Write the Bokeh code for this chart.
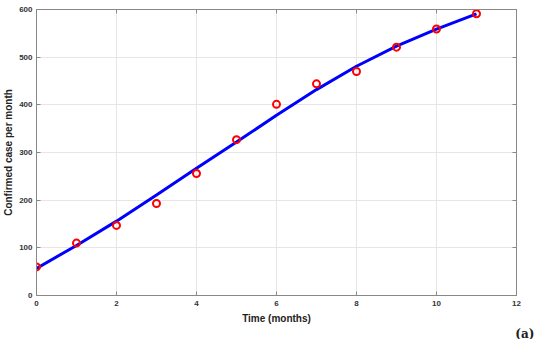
from bokeh.plotting import figure
from bokeh.models import LinearAxis, Range1d, FixedTicker, Title
from bokeh.embed import file_html
from bokeh.resources import INLINE

months = [0, 1, 2, 3, 4, 5, 6, 7, 8, 9, 10, 11]
observed = [60, 110, 147, 193, 256, 327, 401, 444, 470, 521, 559, 591]
fitted = [57, 105, 156, 211, 267, 322, 378, 432, 481, 523, 559, 591]
x_ticks = [0, 2, 4, 6, 8, 10, 12]
y_ticks = [0, 100, 200, 300, 400, 500, 600]

FONT = "Liberation Sans"

p = figure(frame_width=480, frame_height=286, output_backend="svg", toolbar_location=None,
           x_range=Range1d(0, 12), y_range=Range1d(0, 600),
           min_border_left=29, min_border_right=22, min_border_top=9, min_border_bottom=20)

p.line(months, fitted, line_color="#0000ff", line_width=3)
p.scatter(months, observed, marker="circle", size=7, fill_color=None,
          line_color="#ff0000", line_width=2)

p.outline_line_color = "#888888"
p.outline_line_width = 1
p.xgrid.grid_line_color = "#e6e6e6"
p.ygrid.grid_line_color = "#e6e6e6"
p.xgrid.ticker = FixedTicker(ticks=x_ticks)
p.ygrid.ticker = FixedTicker(ticks=y_ticks)

for ax in (p.xaxis[0], p.yaxis[0]):
    ax.major_tick_in = 4
    ax.major_tick_out = 0
    ax.minor_tick_line_color = None
    ax.axis_line_color = "#888888"
    ax.major_tick_line_color = "#888888"
    ax.major_label_text_font = FONT
    ax.major_label_text_font_style = "bold"
    ax.major_label_text_font_size = "8px"
    ax.major_label_text_color = "#333333"
    ax.axis_label_text_font = FONT
    ax.axis_label_text_font_style = "bold"
    ax.axis_label_text_font_size = "10px"
    ax.axis_label_text_color = "#222222"

p.xaxis[0].ticker = FixedTicker(ticks=x_ticks)
p.yaxis[0].ticker = FixedTicker(ticks=y_ticks)
p.xaxis[0].axis_label = "Time (months)"
p.yaxis[0].axis_label = "Confirmed case per month"
p.xaxis[0].major_label_standoff = 5
p.xaxis[0].axis_label_standoff = 4
p.yaxis[0].major_label_standoff = 4
p.yaxis[0].axis_label_standoff = 2

for loc, ticks in (("right", y_ticks), ("above", x_ticks)):
    ax = LinearAxis(ticker=FixedTicker(ticks=ticks))
    ax.major_tick_in = 4
    ax.major_tick_out = 0
    ax.minor_tick_line_color = None
    ax.axis_line_color = "#888888"
    ax.major_tick_line_color = "#888888"
    ax.major_label_text_font_size = "0px"
    ax.major_label_text_color = None
    ax.major_label_standoff = 0
    p.add_layout(ax, loc)

tag = Title(text="(a)", align="right", offset=-18, standoff=0, vertical_align="top",
            text_font="DejaVu Serif", text_font_style="bold",
            text_font_size="12px", text_color="#222222")
p.add_layout(tag, "below")

open("out.html", "w").write(file_html(p, INLINE))
